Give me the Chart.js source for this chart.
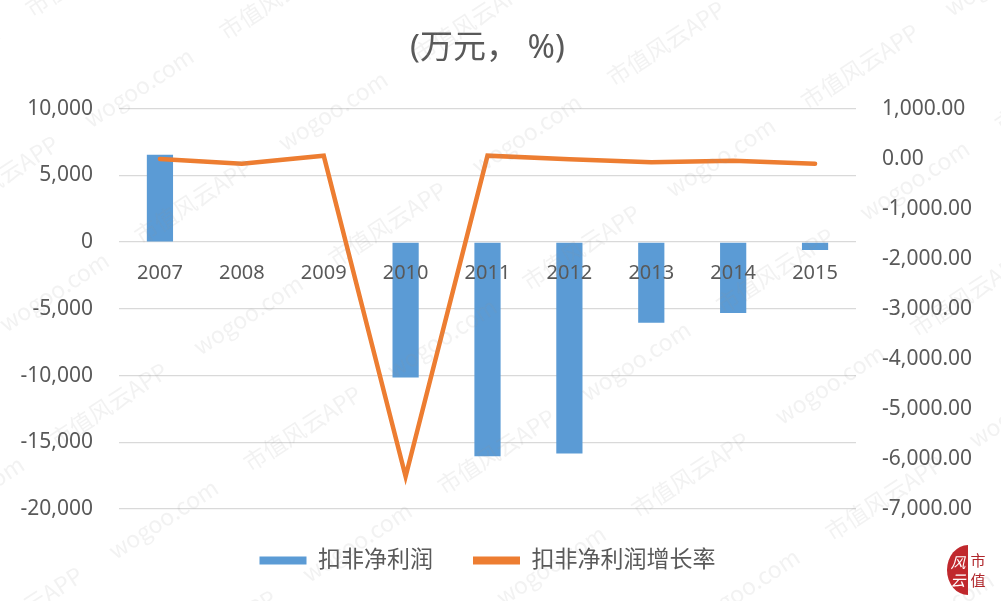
<!DOCTYPE html>
<html>
<head>
<meta charset="utf-8">
<script src="https://cdn.jsdelivr.net/npm/chart.js@4.4.1/dist/chart.umd.min.js"></script>
<style>
  html, body { margin: 0; padding: 0; background: #ffffff; }
  #wrap { width: 1001px; height: 601px; }
</style>
</head>
<body>
<div id="wrap"><canvas id="c" width="1001" height="601"></canvas></div>
<script>
// 扣非净利润（万元）与增长率（%），2007–2015
const years = ['2007', '2008', '2009', '2010', '2011', '2012', '2013', '2014', '2015'];
const profit = [6550, 0, 0, -10150, -16050, -15850, -6050, -5320, -600];
const growth = [-5, -100, 60, -6350, 60, -10, -70, -40, -100];
const leftTicks = [10000, 5000, 0, -5000, -10000, -15000, -20000];
const rightTicks = [1000, 0, -1000, -2000, -3000, -4000, -5000, -6000, -7000];

const titleText = '(万元， %)';
const profitLabel = '扣非净利润';
const growthLabel = '扣非净利润增长率';
const markText = ['市值风云APP', 'wogoo.com'];

const BLUE = '#5B9BD5';
const ORANGE = '#ED7D31';
const GREY = '#595959';
const GRID = '#D9D9D9';
const FONT = '"Noto Sans", "Noto Sans CJK SC", sans-serif';

// faint diagonal site mark tiled over the whole canvas, plus the corner seal
const stampPlugin = {
  id: 'stamp',
  afterDraw(chart) {
    const ctx = chart.ctx;
    ctx.save();
    ctx.fillStyle = 'rgba(150,150,150,0.12)';
    ctx.font = '23px "Noto Sans CJK SC", sans-serif';
    ctx.textBaseline = 'middle';
    ctx.translate(500, 300);
    ctx.rotate(-33 * Math.PI / 180);
    const unit = markText[0] + '       ' + markText[1] + '       ';
    const unitW = ctx.measureText(unit).width;
    for (let r = -7; r <= 7; r++) {
      const y = r * 125;
      const shift = (r * 150) % unitW;
      for (let x = -1300 + shift; x < 1300; x += unitW) {
        ctx.fillText(unit, x, y);
      }
    }
    ctx.restore();

    // seal in the lower right corner
    ctx.save();
    ctx.fillStyle = '#C0282D';
    ctx.beginPath();
    ctx.ellipse(968, 570, 21, 25, 0, Math.PI / 2, Math.PI * 1.5);
    ctx.closePath();
    ctx.fill();
    ctx.fillStyle = '#ffffff';
    ctx.font = 'italic 15px "Noto Sans CJK SC", sans-serif';
    ctx.textAlign = 'center';
    ctx.textBaseline = 'middle';
    ctx.fillText('风', 958, 562);
    ctx.fillText('云', 958, 580);
    ctx.fillStyle = '#B0262B';
    ctx.font = '15px "Noto Sans CJK SC", serif';
    ctx.fillText('市', 978, 560);
    ctx.fillText('值', 978, 580);
    ctx.restore();
  }
};

const fmtLeft = v => Number(v).toLocaleString('en-US');
const fmtRight = v => Number(v).toLocaleString('en-US', { minimumFractionDigits: 2, maximumFractionDigits: 2 });

new Chart(document.getElementById('c'), {
  type: 'bar',
  data: {
    labels: years,
    datasets: [
      {
        type: 'bar',
        label: profitLabel,
        data: profit,
        backgroundColor: BLUE,
        borderWidth: 0,
        barPercentage: 0.32,
        categoryPercentage: 1.0,
        yAxisID: 'y',
        order: 2
      },
      {
        type: 'line',
        label: growthLabel,
        data: growth,
        borderColor: ORANGE,
        backgroundColor: ORANGE,
        borderWidth: 4.5,
        borderCapStyle: 'round',
        pointRadius: 0,
        tension: 0,
        yAxisID: 'y1',
        order: 1
      }
    ]
  },
  options: {
    responsive: false,
    animation: false,
    devicePixelRatio: 1,
    layout: { padding: { top: 1, bottom: 19, left: 0, right: 26 } },
    plugins: {
      title: {
        display: true,
        text: titleText,
        color: GREY,
        font: { family: FONT, size: 33, weight: 'normal' },
        padding: { top: 28, bottom: 40 }
      },
      legend: {
        position: 'bottom',
        labels: {
          color: GREY,
          font: { family: FONT, size: 23 },
          boxWidth: 47,
          boxHeight: 8,
          padding: 40,
          sort: (a, b) => a.datasetIndex - b.datasetIndex,
          generateLabels(chart) {
            return chart.data.datasets.map((ds, i) => ({
              text: ds.label,
              fillStyle: ds.type === 'line' ? ds.borderColor : ds.backgroundColor,
              strokeStyle: 'rgba(0,0,0,0)',
              lineWidth: 0,
              fontColor: GREY,
              datasetIndex: i,
              hidden: false
            }));
          }
        }
      },
      tooltip: { enabled: false }
    },
    scales: {
      x: {
        position: { y: 0 },
        grid: { display: false, drawTicks: false },
        border: { display: false },
        ticks: {
          z: 1,
          color: GREY,
          font: { family: FONT, size: 20 },
          padding: 19,
          maxRotation: 0
        }
      },
      y: {
        position: 'left',
        min: -20000,
        max: 10000,
        afterBuildTicks: s => { s.ticks = leftTicks.map(v => ({ value: v })); },
        afterFit: s => { s.width = 119; },
        grid: { color: GRID, lineWidth: 1.3, drawTicks: false },
        border: { display: false },
        ticks: {
          color: GREY,
          font: { family: FONT, size: 21 },
          padding: 26,
          callback: fmtLeft
        }
      },
      y1: {
        position: 'right',
        min: -7000,
        max: 1000,
        afterBuildTicks: s => { s.ticks = rightTicks.map(v => ({ value: v })); },
        afterFit: s => { s.width = 119; },
        grid: { display: false, drawTicks: false },
        border: { display: false },
        ticks: {
          color: GREY,
          font: { family: FONT, size: 21 },
          padding: 26,
          callback: fmtRight
        }
      }
    }
  },
  plugins: [stampPlugin]
});
</script>
</body>
</html>
